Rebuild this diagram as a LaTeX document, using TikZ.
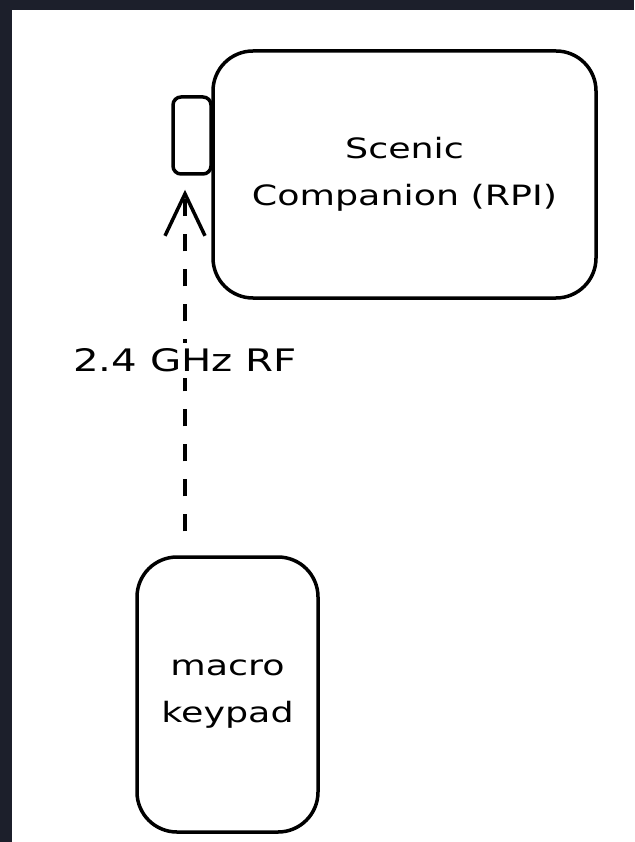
\documentclass[tikz,border=0pt]{standalone}
\usepackage{fontspec}
\setmainfont[FakeStretch=1.3]{DejaVu Sans}
\usetikzlibrary{arrows.meta}
\definecolor{framebg}{HTML}{1C1F2B}
\tikzset{
  box/.style={draw=black, line width=3.5pt, rounded corners=40pt, fill=white,
    align=center, inner sep=0pt},
  smallbox/.style={draw=black, line width=3.5pt, rounded corners=8pt, fill=white,
    inner sep=0pt, minimum width=38pt, minimum height=77pt},
  boxtext/.style={font=\fontsize{28}{47}\selectfont},
  link/.style={draw=black, line width=3.5pt, dash pattern=on 17pt off 18pt,
    -{Straight Barb[length=42pt, width=40pt, line width=3.5pt]}},
  linklabel/.style={fill=white, inner sep=6pt, font=\fontsize{31}{36}\selectfont}
}
\begin{document}
\begin{tikzpicture}[x=1pt, y=-1pt]
  % page: dark frame on the left and top, white canvas
  \fill[framebg] (0,0) rectangle (634,842);
  \fill[white] (12,10) rectangle (634,842);
  \useasboundingbox (0,0) rectangle (634,842);

  % Raspberry Pi unit and its radio dongle
  \node[box, boxtext, minimum width=383pt, minimum height=247pt]
    (rpi) at (404.5,174.5) {Scenic\\Companion (RPI)};
  \node[smallbox] (dongle) at (192,135.5) {};

  % handheld keypad
  \node[box, boxtext, minimum width=181pt, minimum height=275pt]
    (keypad) at (227.5,694.5) {macro\\keypad};

  % wireless link
  \coordinate (linkstart) at ([xshift=-42.5pt, yshift=24pt]keypad.north);
  \coordinate (linkend) at ([xshift=-7pt, yshift=-14pt]dongle.south);
  \draw[link] (linkstart) -- (linkend)
    node[linklabel, pos=0.5] (rf) {2.4 GHz RF};
\end{tikzpicture}
\end{document}
